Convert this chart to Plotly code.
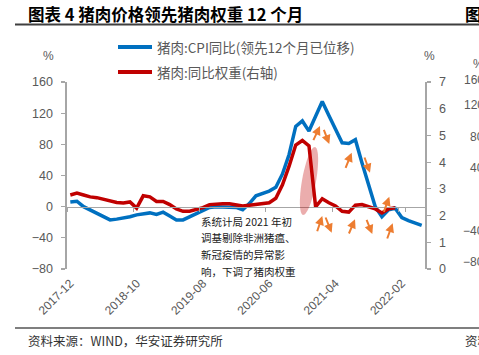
import math
import pandas as pd
import plotly.graph_objects as go

# ---------------- data ----------------
months = list(pd.date_range("2017-12-01", periods=54, freq="MS").strftime("%Y-%m"))

pork_cpi_yoy = [6, 7, 0, -4, -8, -12, -17, -16, -15, -13,
                -10.5, -9, -8, -10, -7, -12, -17, -17, -13, -9,
                -4, -1, 0, 0, 0, -1, -4, 4, 14, 17,
                20, 25, 42, 67, 103, 110, 97, 116, 135, 117,
                100, 82, 81, 86, 56, 28, 0, -13, -4, -2,
                -14, -18, -21, -24]

pork_weight = [2.77, 2.84, 2.77, 2.70, 2.67, 2.60, 2.54, 2.49, 2.47, 2.51,
               2.28, 2.74, 2.70, 2.53, 2.53, 2.41, 2.25, 2.16, 2.16, 2.22,
               2.30, 2.41, 2.44, 2.44, 2.44, 2.41, 2.36, 2.39, 2.41, 2.44,
               2.48, 2.65, 3.15, 3.85, 4.64, 4.81, 4.61, 2.33, 2.63, 2.48,
               2.36, 2.16, 2.13, 2.39, 2.41, 2.33, 2.25, 2.10, 2.25, 2.29]

x_tick_labels = ["2017-12", "2018-10", "2019-08", "2020-06", "2021-04", "2022-02"]
left_ticks = [-80, -40, 0, 40, 80, 120, 160]
right_ticks = [0, 1, 2, 3, 4, 5, 6, 7]

# ---------------- geometry helpers (decorations only) ----------------
W, H = 479, 355
ML, MR, MT, MB = 67, 54, 82, 86
PW, PH = W - ML - MR, H - MT - MB


def px(xp):
    return (xp - ML) / PW


def py(yp):
    return (H - MB - yp) / PH


BLUE = "#0070C0"
RED = "#C00000"
ORANGE = "#ED7D31"
GRAY = "#595959"
AXIS = "#A6A6A6"
CJK = "Noto Sans CJK SC"
LAT = "Liberation Sans"

fig = go.Figure()
fig.add_trace(go.Scatter(x=months, y=pork_cpi_yoy, mode="lines",
                         line=dict(color=BLUE, width=3.5),
                         name="猪肉:CPI同比(领先12个月已位移)", xaxis="x", yaxis="y"))
fig.add_trace(go.Scatter(x=months[:len(pork_weight)], y=pork_weight, mode="lines",
                         line=dict(color=RED, width=3.5),
                         name="猪肉:同比权重(右轴)", xaxis="x2", yaxis="y2"))

shapes = []
annotations = []

# rules
shapes.append(dict(type="line", xref="paper", yref="paper", x0=px(15), x1=px(482),
                   y0=py(24.5), y1=py(24.5), line=dict(color="#3F3F3F", width=1.8)))
shapes.append(dict(type="line", xref="paper", yref="paper", x0=px(15), x1=px(482),
                   y0=py(328), y1=py(328), line=dict(color="#7F7F7F", width=1.8)))

# legend (manual)
for yy, col, txt in [(47, BLUE, "猪肉:CPI同比(领先12个月已位移)"), (72, RED, "猪肉:同比权重(右轴)")]:
    shapes.append(dict(type="line", xref="paper", yref="paper", x0=px(118), x1=px(152),
                       y0=py(yy), y1=py(yy), line=dict(color=col, width=4)))
    annotations.append(dict(xref="paper", yref="paper", x=px(155), y=py(yy), text=txt,
                            showarrow=False, xanchor="left", yanchor="middle",
                            font=dict(family=CJK, size=13.5, color=GRAY)))

# ellipse highlight
cx, cy, a, b, th = 309, 181, 34.5, 7, math.radians(10)
pts = []
for k in range(49):
    t = 2 * math.pi * k / 48
    ex = b * math.cos(t)
    ey = a * math.sin(t)
    rx = ex * math.cos(th) - ey * math.sin(th)
    ry = ex * math.sin(th) + ey * math.cos(th)
    pts.append((px(cx + rx), py(cy + ry)))
path = "M" + " L".join(f"{p[0]:.5f},{p[1]:.5f}" for p in pts) + " Z"
shapes.append(dict(type="path", xref="paper", yref="paper", path=path,
                   fillcolor="rgba(192,0,0,0.32)", line=dict(width=0), layer="above"))

# orange arrows (tail -> head) in pixels
arrows = [((312.7, 141.7), (320, 126)), ((323.3, 128.3), (329.3, 144)),
          ((345, 169.3), (351.7, 152.7)), ((364, 156), (370, 172.7)),
          ((383.3, 213.3), (389.3, 196.7)),
          ((316.7, 232.7), (322.3, 216)), ((325, 216), (331.7, 232.7)),
          ((348.3, 235), (355, 219.3)), ((366, 218.3), (372.3, 234)),
          ((386.7, 240), (392.7, 223.3))]
for (tx, ty), (hx, hy) in arrows:
    annotations.append(dict(xref="paper", yref="paper", x=px(hx), y=py(hy),
                            ax=tx - hx, ay=ty - hy, axref="pixel", ayref="pixel",
                            text="", showarrow=True, arrowhead=2, arrowsize=0.9,
                            arrowwidth=2, arrowcolor=ORANGE, standoff=0, startstandoff=0))

# note text
note = ["系统计局 2021 年初", "调基剔除非洲猪瘟、", "新冠疫情的异常影", "响，下调了猪肉权重"]
for i, (line, yy) in enumerate(zip(note, [221, 237.5, 254, 271])):
    annotations.append(dict(xref="paper", yref="paper", x=px(199), y=py(yy), text=line,
                            showarrow=False, xanchor="left", yanchor="middle",
                            font=dict(family=CJK, size=10.5, color="#1a1a1a")))

# axis unit labels
annotations.append(dict(xref="paper", yref="paper", x=px(41), y=py(47), text="%",
                        showarrow=False, font=dict(family=LAT, size=12, color=GRAY)))
annotations.append(dict(xref="paper", yref="paper", x=px(437), y=py(47), text="%",
                        showarrow=False, font=dict(family=LAT, size=12, color=GRAY)))

# title & source
annotations.append(dict(xref="paper", yref="paper", x=px(26), y=py(14), text="<b>图表 4 猪肉价格领先猪肉权重 12 个月</b>",
                        showarrow=False, xanchor="left", yanchor="middle",
                        font=dict(family=CJK, size=16.5, color="#000000")))
annotations.append(dict(xref="paper", yref="paper", x=px(26), y=py(340), text="资料来源：WIND，华安证券研究所",
                        showarrow=False, xanchor="left", yanchor="middle",
                        font=dict(family=CJK, size=12.5, color="#333333")))

# fragments of the neighbouring chart at the right edge
annotations.append(dict(xref="paper", yref="paper", x=px(463), y=py(14), text="<b>图表 5</b>",
                        showarrow=False, xanchor="left", yanchor="middle",
                        font=dict(family=CJK, size=16.5, color="#000000")))
annotations.append(dict(xref="paper", yref="paper", x=px(463), y=py(340), text="资料来源",
                        showarrow=False, xanchor="left", yanchor="middle",
                        font=dict(family=CJK, size=12.5, color="#333333")))
annotations.append(dict(xref="paper", yref="paper", x=px(471), y=py(55), text="%",
                        showarrow=False, xanchor="left", font=dict(family=LAT, size=12, color=GRAY)))
for val, yy in [("160", 80), ("120", 105), ("80", 137), ("40", 168), ("-40", 231), ("-80", 262)]:
    annotations.append(dict(xref="paper", yref="paper", x=px(486), y=py(yy), text=val.replace("-", "−"),
                            showarrow=False, xanchor="right", yanchor="middle",
                            font=dict(family=LAT, size=12, color=GRAY)))

fig.update_layout(
    width=W, height=H,
    margin=dict(l=ML, r=MR, t=MT, b=MB, pad=0, autoexpand=False),
    paper_bgcolor="white", plot_bgcolor="white",
    showlegend=False,
    shapes=shapes, annotations=annotations,
    xaxis=dict(type="category", categoryorder="array", categoryarray=months,
               range=[-0.5, len(months) - 0.5], showgrid=False, showline=False,
               zeroline=False, ticks="", tickmode="array", tickvals=x_tick_labels,
               ticktext=x_tick_labels, tickangle=-45, automargin=False,
               ticklabelstandoff=4,
               tickfont=dict(family=LAT, size=12, color=GRAY)),
    xaxis2=dict(type="category", categoryorder="array", categoryarray=months,
                range=[-0.5, len(months) - 0.5], overlaying="x", anchor="free",
                position=(0 - left_ticks[0]) / (left_ticks[-1] - left_ticks[0]),
                showgrid=False, showline=True, linecolor=AXIS, linewidth=1.6,
                zeroline=False, ticks="outside", ticklen=4, tickcolor=AXIS, tickwidth=1.2,
                tickson="boundaries", tickmode="array", tickvals=x_tick_labels,
                showticklabels=False, automargin=False),
    yaxis=dict(range=[left_ticks[0], left_ticks[-1]], tickvals=left_ticks,
               showgrid=False, zeroline=False, showline=True, linecolor=AXIS, linewidth=1.6,
               ticks="outside", ticklen=4, tickcolor=AXIS, tickwidth=1.2,
               ticklabelstandoff=6, automargin=False,
               tickfont=dict(family=LAT, size=12.5, color=GRAY)),
    yaxis2=dict(range=[right_ticks[0], right_ticks[-1]], tickvals=right_ticks,
                overlaying="y", side="right", anchor="free", position=1,
                showgrid=False, zeroline=False, showline=True, linecolor=AXIS, linewidth=1.6,
                ticks="outside", ticklen=4, tickcolor=AXIS, tickwidth=1.2,
                ticklabelstandoff=6, automargin=False,
                tickfont=dict(family=LAT, size=12.5, color=GRAY)),
)

fig.write_html("out.html", config={"displayModeBar": False, "staticPlot": True},
               post_script="document.body.style.margin='0px';document.body.style.overflow='hidden';")
